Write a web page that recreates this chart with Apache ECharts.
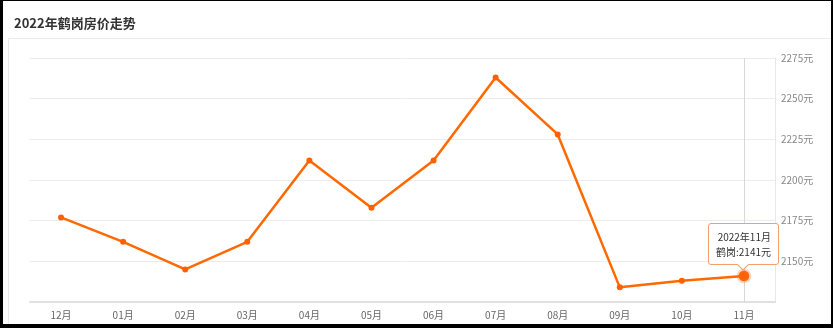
<!DOCTYPE html>
<html><head><meta charset="utf-8">
<script src="https://cdn.jsdelivr.net/npm/echarts@6/dist/echarts.min.js"></script>
<style>
html,body{margin:0;padding:0;background:#fff;}
#wrap{position:relative;width:833px;height:328px;overflow:hidden;}
#chart{position:absolute;left:0;top:0;width:833px;height:328px;}
#frame{position:absolute;left:0;top:0;width:833px;height:328px;box-sizing:border-box;border-style:solid;border-color:#000;border-width:1px 2px 4px 3px;pointer-events:none;}
</style></head>
<body>
<div id="wrap"><div id="chart"></div><div id="frame"></div></div>
<script>
var titleText = '2022年鹤岗房价走势';
var seriesName = '鹤岗';
var months = ['12月','01月','02月','03月','04月','05月','06月','07月','08月','09月','10月','11月'];
var monthFull = ['2021年12月','2022年01月','2022年02月','2022年03月','2022年04月','2022年05月','2022年06月','2022年07月','2022年08月','2022年09月','2022年10月','2022年11月'];
var prices = [2177, 2162, 2145, 2162, 2212, 2183, 2212, 2263, 2228, 2134, 2138, 2141];
var yMin = 2125, yMax = 2275, yStep = 25;
var unit = '元';

var chart = echarts.init(document.getElementById('chart'));
chart.setOption({
  animation: false,
  title: {text: titleText, left: 9, top: 12, textStyle: {fontSize: 13, fontWeight: 'bold', color: '#333', fontFamily: 'Noto Sans CJK SC'}},
  graphic: [{type: 'rect', shape: {x: 8.5, y: 38.5, width: 840, height: 300}, style: {fill: 'none', stroke: '#ebebeb', lineWidth: 1}, silent: true}],
  grid: {left: 30, right: 58, top: 58, bottom: 26},
  tooltip: {
    trigger: 'axis', alwaysShowContent: true, triggerOn: 'none',
    backgroundColor: '#fff', borderColor: '#f3a06b', borderWidth: 1, borderRadius: 3, padding: [5, 7],
    textStyle: {fontSize: 10, color: '#333', fontFamily: 'Noto Sans CJK SC'},
    extraCssText: 'box-shadow:none;line-height:15px;text-align:right;',
    axisPointer: {type: 'line', z: 1, lineStyle: {color: '#d8d8d8', width: 1, type: 'solid'}},
    position: function (point, params, dom, rect, size) {
      return [point[0] - size.contentSize[0] / 2, point[1] - size.contentSize[1] - 11];
    },
    formatter: function (ps) {
      var p = ps[0];
      return '<div>' + monthFull[p.dataIndex] + '</div><div>' + p.seriesName + ':' + p.value + unit + '</div>' +
        '<div style="position:absolute;left:50%;bottom:-5px;margin-left:-4px;width:7px;height:7px;background:#fff;border-right:1px solid #f3a06b;border-bottom:1px solid #f3a06b;transform:rotate(45deg);"></div>';
    }
  },
  xAxis: {
    type: 'category', data: months, boundaryGap: true,
    axisLine: {lineStyle: {color: '#e0e0e0', width: 2}},
    axisTick: {alignWithLabel: true, lineStyle: {color: '#e0e0e0'}, length: 3},
    axisLabel: {fontSize: 10, color: '#666', margin: 8, fontFamily: 'Noto Sans CJK SC'}
  },
  yAxis: {
    type: 'value', position: 'right', min: yMin, max: yMax, interval: yStep,
    axisLine: {show: true, lineStyle: {color: '#e8e8e8'}},
    axisTick: {show: false},
    splitLine: {lineStyle: {color: '#ececec'}},
    axisLabel: {fontSize: 10, color: '#888', margin: 6, showMinLabel: false, fontFamily: 'Noto Sans CJK SC',
      formatter: function (v) { return v + unit; }}
  },
  series: [{
    name: seriesName, type: 'line', data: prices, z: 5,
    symbol: 'circle', symbolSize: 6,
    lineStyle: {color: '#ff6000', width: 2.5},
    itemStyle: {color: '#ff6000'},
    emphasis: {scale: 1.8, itemStyle: {color: '#ff6000', borderColor: 'rgba(255,120,40,0.3)', borderWidth: 4}}
  }]
});
chart.dispatchAction({type: 'showTip', seriesIndex: 0, dataIndex: prices.length - 1});
</script>
</body></html>
